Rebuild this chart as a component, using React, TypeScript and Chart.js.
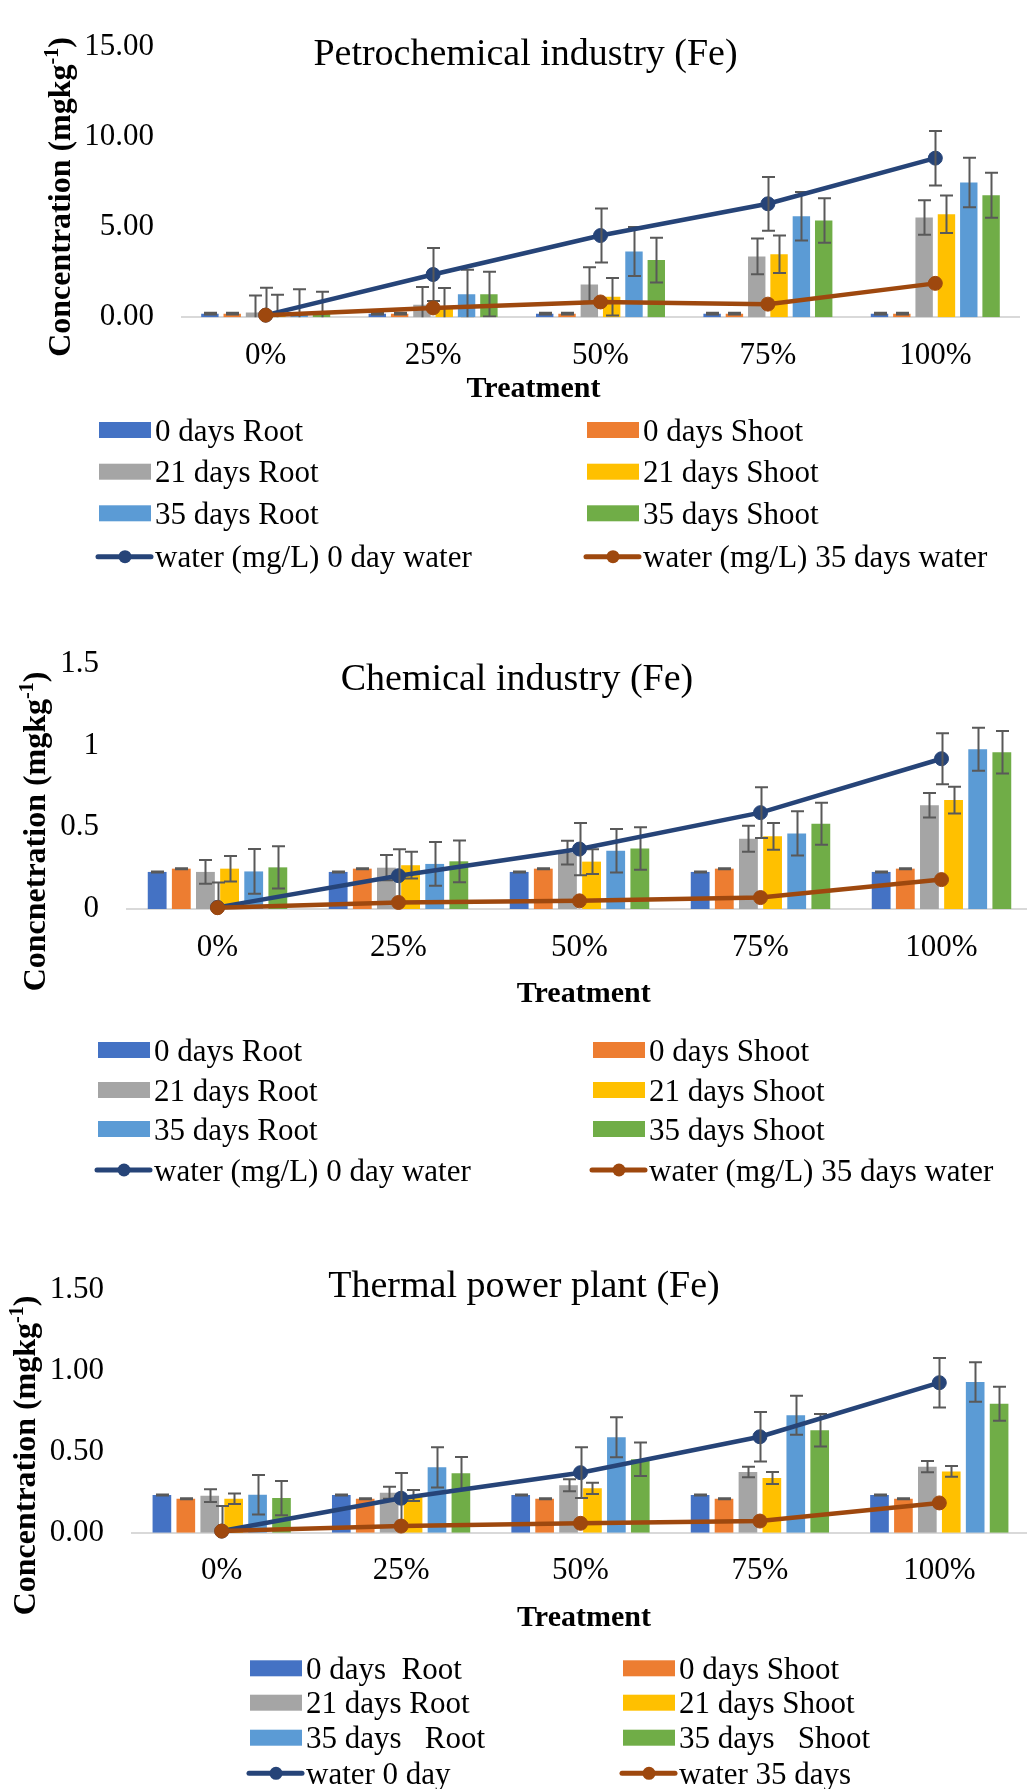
import React, { useEffect, useRef } from 'react';
import { Chart, registerables } from 'chart.js';

Chart.register(...registerables);

// ---------- data ----------
const treatments = ['0%', '25%', '50%', '75%', '100%'];

// Petrochemical industry (Fe)
const petroRoot0 = [0.2, 0.2, 0.2, 0.2, 0.2];
const petroRoot0Err = [0.05, 0.05, 0.05, 0.05, 0.05];
const petroShoot0 = [0.2, 0.2, 0.2, 0.2, 0.2];
const petroShoot0Err = [0.05, 0.05, 0.05, 0.05, 0.05];
const petroRoot21 = [0.26, 0.69, 1.82, 3.37, 5.53];
const petroRoot21Err = [0.95, 0.99, 0.96, 0.99, 0.96];
const petroShoot21 = [0.2, 0.62, 1.14, 3.49, 5.71];
const petroShoot21Err = [1.05, 1.0, 1.04, 1.04, 1.04];
const petroRoot35 = [0.2, 1.28, 3.65, 5.6, 7.47];
const petroRoot35Err = [1.36, 1.35, 1.36, 1.35, 1.37];
const petroShoot35 = [0.22, 1.28, 3.17, 5.36, 6.76];
const petroShoot35Err = [1.2, 1.24, 1.24, 1.23, 1.25];
const petroWater0 = [0.12, 2.37, 4.53, 6.29, 8.82];
const petroWater0Err = [1.52, 1.47, 1.5, 1.49, 1.51];
const petroWater35 = [0.12, 0.52, 0.85, 0.73, 1.88];

// Chemical industry (Fe)
const chemRoot0 = [0.227, 0.227, 0.227, 0.227, 0.227];
const chemRoot0Err = [0.003, 0.003, 0.003, 0.003, 0.003];
const chemShoot0 = [0.247, 0.247, 0.247, 0.247, 0.247];
const chemShoot0Err = [0.003, 0.003, 0.003, 0.003, 0.003];
const chemRoot21 = [0.227, 0.253, 0.345, 0.43, 0.635];
const chemRoot21Err = [0.073, 0.077, 0.073, 0.08, 0.075];
const chemShoot21 = [0.247, 0.268, 0.29, 0.445, 0.667];
const chemShoot21Err = [0.078, 0.082, 0.076, 0.082, 0.082];
const chemRoot35 = [0.23, 0.276, 0.357, 0.463, 0.978];
const chemRoot35Err = [0.137, 0.134, 0.133, 0.135, 0.132];
const chemShoot35 = [0.255, 0.292, 0.37, 0.522, 0.96];
const chemShoot35Err = [0.129, 0.128, 0.13, 0.129, 0.13];
const chemWater0 = [0.01, 0.204, 0.367, 0.59, 0.92];
const chemWater0Err = [0.153, 0.162, 0.16, 0.155, 0.156];
const chemWater35 = [0.008, 0.04, 0.05, 0.07, 0.18];

// Thermal power plant (Fe)
const thermRoot0 = [0.233, 0.233, 0.233, 0.233, 0.233];
const thermRoot0Err = [0.003, 0.003, 0.003, 0.003, 0.003];
const thermShoot0 = [0.21, 0.21, 0.21, 0.21, 0.21];
const thermShoot0Err = [0.003, 0.003, 0.003, 0.003, 0.003];
const thermRoot21 = [0.229, 0.247, 0.293, 0.375, 0.408];
const thermRoot21Err = [0.039, 0.037, 0.037, 0.033, 0.035];
const thermShoot21 = [0.21, 0.23, 0.274, 0.338, 0.379];
const thermShoot21Err = [0.033, 0.034, 0.035, 0.037, 0.033];
const thermRoot35 = [0.235, 0.404, 0.59, 0.726, 0.931];
const thermRoot35Err = [0.122, 0.124, 0.123, 0.121, 0.122];
const thermShoot35 = [0.214, 0.367, 0.454, 0.633, 0.797];
const thermShoot35Err = [0.106, 0.101, 0.103, 0.101, 0.105];
const thermWater0 = [0.01, 0.213, 0.371, 0.593, 0.927];
const thermWater0Err = [0.155, 0.156, 0.157, 0.153, 0.153];
const thermWater35 = [0.01, 0.041, 0.058, 0.072, 0.184];

const legendLabelsLong = [
  ['0 days Root', '0 days Shoot'],
  ['21 days Root', '21 days Shoot'],
  ['35 days Root', '35 days Shoot'],
  ['water (mg/L) 0 day water', 'water (mg/L) 35 days water'],
];
const legendLabelsShort = [
  ['0 days  Root', '0 days Shoot'],
  ['21 days Root', '21 days Shoot'],
  ['35 days   Root', '35 days   Shoot'],
  ['water 0 day', 'water 35 days'],
];

// ---------- styling ----------
const FONT = '"Liberation Serif", "Times New Roman", serif';
const COLORS = {
  root0: '#4472C4',
  shoot0: '#ED7D31',
  root21: '#A5A5A5',
  shoot21: '#FFC000',
  root35: '#5B9BD5',
  shoot35: '#70AD47',
  water0: '#264478',
  water35: '#9E480E',
};
const ERR_COLOR = '#595959';
const X_AXIS_H = 60;
const TICK_SIZE = 31;

type SeriesSet = {
  root0: number[]; root0Err: number[];
  shoot0: number[]; shoot0Err: number[];
  root21: number[]; root21Err: number[];
  shoot21: number[]; shoot21Err: number[];
  root35: number[]; root35Err: number[];
  shoot35: number[]; shoot35Err: number[];
  water0: number[]; water0Err: number[];
  water35: number[];
};

type PanelSpec = {
  top: number;
  width: number;
  height: number;
  area: { left: number; right: number; top: number; bottom: number };
  yMax: number;
  yStep: number;
  yFormat: (v: number) => string;
  title: string;
  titleX: number;
  titleBaseline: number;
  yTitleMain: string;
  yTitleX: number;
  yTitleY: number;
  xTitle: string;
  xTitleX: number;
  xTitleBaseline: number;
  legendBoxX: [number, number];
  legendRows: number[];
  labels: string[][];
  data: SeriesSet;
};

const panels: PanelSpec[] = [
  {
    top: 0, width: 1027, height: 600,
    area: { left: 182, right: 1024, top: 28, bottom: 317.3 },
    yMax: 15, yStep: 5, yFormat: (v) => v.toFixed(2),
    title: 'Petrochemical industry (Fe)', titleX: 525.5, titleBaseline: 65,
    yTitleMain: 'Concentration (mgkg', yTitleX: 70, yTitleY: 197,
    xTitle: 'Treatment', xTitleX: 533.5, xTitleBaseline: 397,
    legendBoxX: [99, 587], legendRows: [430, 471.7, 513.3, 556.7],
    labels: legendLabelsLong,
    data: {
      root0: petroRoot0, root0Err: petroRoot0Err,
      shoot0: petroShoot0, shoot0Err: petroShoot0Err,
      root21: petroRoot21, root21Err: petroRoot21Err,
      shoot21: petroShoot21, shoot21Err: petroShoot21Err,
      root35: petroRoot35, root35Err: petroRoot35Err,
      shoot35: petroShoot35, shoot35Err: petroShoot35Err,
      water0: petroWater0, water0Err: petroWater0Err,
      water35: petroWater35,
    },
  },
  {
    top: 600, width: 1040, height: 600,
    area: { left: 127, right: 1036, top: 64, bottom: 309 },
    yMax: 1.5, yStep: 0.5, yFormat: (v) => String(v),
    title: 'Chemical industry (Fe)', titleX: 517, titleBaseline: 90,
    yTitleMain: 'Concnetration (mgkg', yTitleX: 45, yTitleY: 231.5,
    xTitle: 'Treatment', xTitleX: 583.7, xTitleBaseline: 401.7,
    legendBoxX: [98, 593], legendRows: [450, 490, 529, 570],
    labels: legendLabelsLong,
    data: {
      root0: chemRoot0, root0Err: chemRoot0Err,
      shoot0: chemShoot0, shoot0Err: chemShoot0Err,
      root21: chemRoot21, root21Err: chemRoot21Err,
      shoot21: chemShoot21, shoot21Err: chemShoot21Err,
      root35: chemRoot35, root35Err: chemRoot35Err,
      shoot35: chemShoot35, shoot35Err: chemShoot35Err,
      water0: chemWater0, water0Err: chemWater0Err,
      water35: chemWater35,
    },
  },
  {
    top: 1200, width: 1040, height: 589,
    area: { left: 132, right: 1029, top: 90, bottom: 332.7 },
    yMax: 1.5, yStep: 0.5, yFormat: (v) => v.toFixed(2),
    title: 'Thermal power plant (Fe)', titleX: 524, titleBaseline: 97,
    yTitleMain: 'Concentration (mgkg', yTitleX: 35, yTitleY: 255.5,
    xTitle: 'Treatment', xTitleX: 584, xTitleBaseline: 426,
    legendBoxX: [250, 623], legendRows: [468.3, 502.7, 537.7, 573.3],
    labels: legendLabelsShort,
    data: {
      root0: thermRoot0, root0Err: thermRoot0Err,
      shoot0: thermShoot0, shoot0Err: thermShoot0Err,
      root21: thermRoot21, root21Err: thermRoot21Err,
      shoot21: thermShoot21, shoot21Err: thermShoot21Err,
      root35: thermRoot35, root35Err: thermRoot35Err,
      shoot35: thermShoot35, shoot35Err: thermShoot35Err,
      water0: thermWater0, water0Err: thermWater0Err,
      water35: thermWater35,
    },
  },
];

// ---------- plugins ----------
const errorBarPlugin = {
  id: 'errorBars',
  afterDatasetDraw(chart: any, args: any) {
    const ds = chart.data.datasets[args.index];
    const errs: number[] | undefined = ds.errorBars;
    if (!errs) return;
    const yScale = chart.scales.y;
    const area = chart.chartArea;
    const ctx = chart.ctx;
    ctx.save();
    ctx.beginPath();
    ctx.rect(area.left, area.top - 20, area.right - area.left, area.bottom - area.top + 20);
    ctx.clip();
    ctx.strokeStyle = ERR_COLOR;
    ctx.lineWidth = 2;
    args.meta.data.forEach((el: any, j: number) => {
      const v = ds.data[j];
      const e = errs[j];
      const x = Math.round(el.x) + 0.5;
      const yt = yScale.getPixelForValue(v + e);
      const yb = yScale.getPixelForValue(v - e);
      ctx.beginPath();
      ctx.moveTo(x, yt);
      ctx.lineTo(x, yb);
      ctx.moveTo(x - 6.5, yt);
      ctx.lineTo(x + 6.5, yt);
      ctx.moveTo(x - 6.5, yb);
      ctx.lineTo(x + 6.5, yb);
      ctx.stroke();
    });
    ctx.restore();
  },
};

function makeDecorPlugin(spec: PanelSpec) {
  return {
    id: 'decor',
    afterDraw(chart: any) {
      const ctx: CanvasRenderingContext2D = chart.ctx;
      ctx.save();
      ctx.fillStyle = '#000';
      ctx.textBaseline = 'alphabetic';

      // chart title
      ctx.font = `38px ${FONT}`;
      ctx.textAlign = 'center';
      ctx.fillText(spec.title, spec.titleX, spec.titleBaseline);

      // x axis title
      ctx.font = `bold 30px ${FONT}`;
      ctx.fillText(spec.xTitle, spec.xTitleX, spec.xTitleBaseline);

      // y axis title with superscript unit
      const mainFont = `bold 32px ${FONT}`;
      const supFont = `bold 20px ${FONT}`;
      ctx.font = mainFont;
      const wMain = ctx.measureText(spec.yTitleMain).width;
      const wClose = ctx.measureText(')').width;
      ctx.font = supFont;
      const wSup = ctx.measureText('-1').width;
      const total = wMain + wSup + wClose;
      ctx.translate(spec.yTitleX, spec.yTitleY);
      ctx.rotate(-Math.PI / 2);
      ctx.textAlign = 'left';
      let cx = -total / 2;
      ctx.font = mainFont;
      ctx.fillText(spec.yTitleMain, cx, 0);
      cx += wMain;
      ctx.font = supFont;
      ctx.fillText('-1', cx, -12);
      cx += wSup;
      ctx.font = mainFont;
      ctx.fillText(')', cx, 0);
      ctx.setTransform(1, 0, 0, 1, 0, 0);

      // legend, two columns
      const grid = [[0, 1], [2, 3], [4, 5], [6, 7]];
      ctx.font = `31px ${FONT}`;
      ctx.textAlign = 'left';
      grid.forEach((row, r) => {
        row.forEach((di, c) => {
          const ds = chart.data.datasets[di];
          const bx = spec.legendBoxX[c];
          const cy = spec.legendRows[r];
          if (ds.type === 'line') {
            ctx.strokeStyle = ds.borderColor;
            ctx.lineWidth = 5;
            ctx.lineCap = 'round';
            ctx.beginPath();
            ctx.moveTo(bx - 1, cy);
            ctx.lineTo(bx + 52, cy);
            ctx.stroke();
            ctx.fillStyle = ds.borderColor;
            ctx.beginPath();
            ctx.arc(bx + 26, cy, 6.5, 0, Math.PI * 2);
            ctx.fill();
          } else {
            ctx.fillStyle = ds.backgroundColor;
            ctx.fillRect(bx, cy - 8, 52, 16);
          }
          ctx.fillStyle = '#000';
          ctx.fillText(spec.labels[r][c], bx + 56, cy + 10.5);
        });
      });
      ctx.restore();
    },
  };
}

function buildConfig(spec: PanelSpec): any {
  const d = spec.data;
  const bar = (label: string, values: number[], errs: number[], color: string) => ({
    type: 'bar',
    label,
    data: values,
    errorBars: errs,
    backgroundColor: color,
    borderWidth: 0,
    categoryPercentage: 0.8,
    barPercentage: 0.78,
    order: 3,
  });
  const line = (label: string, values: number[], errs: number[] | undefined, color: string, order: number) => ({
    type: 'line',
    label,
    data: values,
    errorBars: errs,
    borderColor: color,
    backgroundColor: color,
    borderWidth: 4.5,
    pointRadius: 7,
    pointBorderWidth: 1,
    pointBackgroundColor: color,
    pointBorderColor: color,
    tension: 0,
    clip: false,
    order,
  });
  const L = spec.labels;
  return {
    type: 'bar',
    data: {
      labels: treatments,
      datasets: [
        bar(L[0][0], d.root0, d.root0Err, COLORS.root0),
        bar(L[0][1], d.shoot0, d.shoot0Err, COLORS.shoot0),
        bar(L[1][0], d.root21, d.root21Err, COLORS.root21),
        bar(L[1][1], d.shoot21, d.shoot21Err, COLORS.shoot21),
        bar(L[2][0], d.root35, d.root35Err, COLORS.root35),
        bar(L[2][1], d.shoot35, d.shoot35Err, COLORS.shoot35),
        line(L[3][0], d.water0, d.water0Err, COLORS.water0, 1),
        line(L[3][1], d.water35, undefined, COLORS.water35, 0),
      ],
    },
    options: {
      responsive: false,
      animation: false,
      events: [],
      layout: {
        padding: {
          left: 0,
          top: spec.area.top,
          right: spec.width - spec.area.right,
          bottom: spec.height - spec.area.bottom - X_AXIS_H,
        },
      },
      plugins: {
        legend: { display: false },
        title: { display: false },
        tooltip: { enabled: false },
      },
      scales: {
        x: {
          grid: { display: true, drawOnChartArea: false, drawTicks: false, color: 'rgba(0,0,0,0)' },
          border: { display: true, color: '#D9D9D9', width: 2 },
          ticks: { color: '#000', font: { family: FONT, size: TICK_SIZE }, padding: 20, maxRotation: 0 },
          afterFit: (s: any) => { s.height = X_AXIS_H; },
        },
        y: {
          min: 0,
          max: spec.yMax,
          grid: { display: false, drawTicks: false },
          border: { display: false },
          ticks: {
            stepSize: spec.yStep,
            color: '#000',
            font: { family: FONT, size: TICK_SIZE },
            padding: 28,
            callback: (v: any) => spec.yFormat(Number(v)),
          },
          afterFit: (s: any) => { s.width = spec.area.left; },
        },
      },
    },
    plugins: [errorBarPlugin, makeDecorPlugin(spec)],
  };
}

function Panel({ spec }: { spec: PanelSpec }) {
  const ref = useRef<HTMLCanvasElement>(null);
  useEffect(() => {
    if (!ref.current) return;
    const chart = new Chart(ref.current, buildConfig(spec));
    return () => chart.destroy();
  }, [spec]);
  return (
    <canvas
      ref={ref}
      width={spec.width}
      height={spec.height}
      style={{ position: 'absolute', left: 0, top: spec.top, width: spec.width, height: spec.height }}
    />
  );
}

export default function App() {
  return (
    <div
      style={{
        position: 'absolute',
        left: 0,
        top: 0,
        width: 1027,
        height: 1789,
        overflow: 'hidden',
        background: '#fff',
      }}
    >
      {panels.map((p, i) => (
        <Panel key={i} spec={p} />
      ))}
    </div>
  );
}
